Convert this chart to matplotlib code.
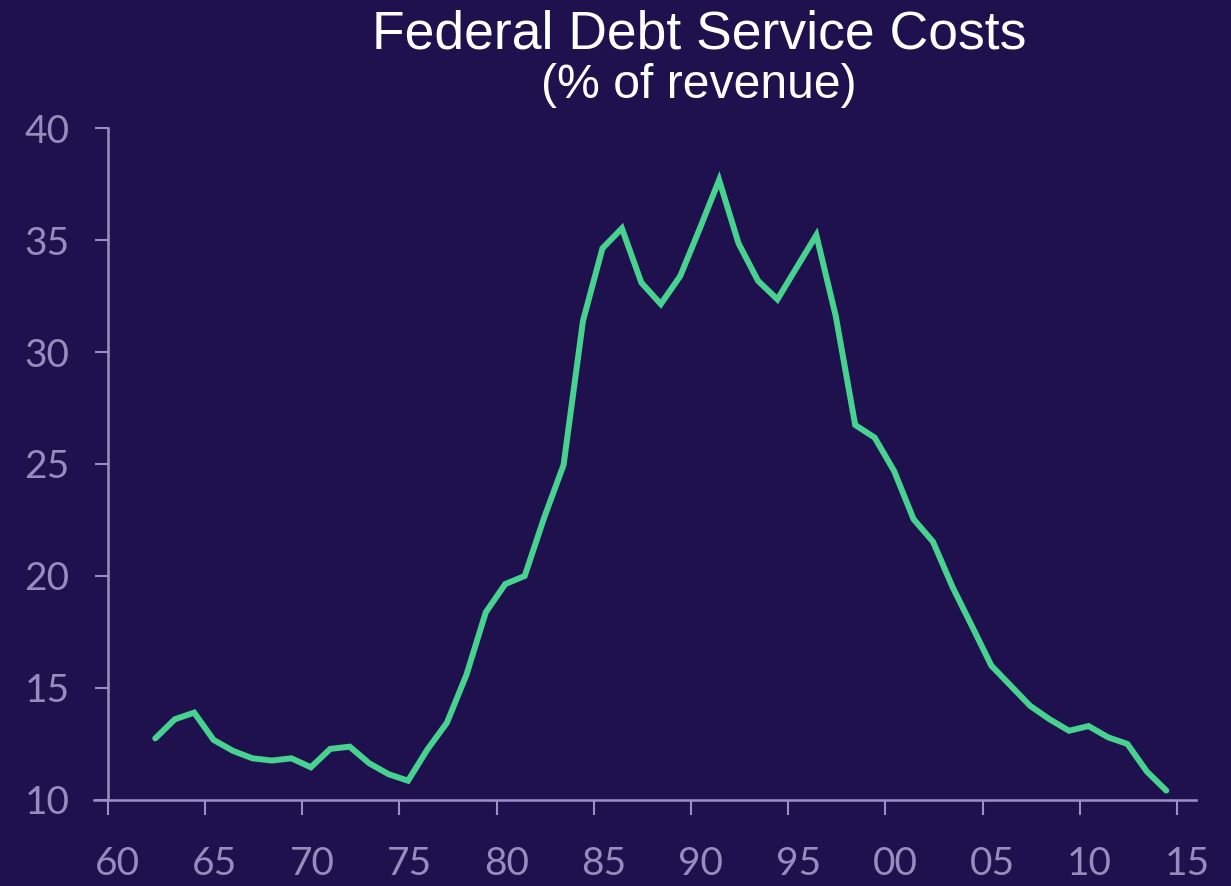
import numpy as np
import matplotlib
matplotlib.use("Agg")
import matplotlib.pyplot as plt
import matplotlib.transforms as mtransforms

# Federal debt service costs, % of revenue
years = np.arange(1962, 2015)
debt_service = [
    12.75, 13.6, 13.9, 12.68, 12.19, 11.86, 11.76, 11.86, 11.46, 12.28,
    12.38, 11.64, 11.15, 10.86, 12.26, 13.45, 15.58, 18.38, 19.64, 20.0,
    22.6, 24.96, 31.4, 34.63, 35.52, 33.1, 32.14, 33.39, 35.5, 37.68,
    34.85, 33.18, 32.35, 33.79, 35.22, 31.6, 26.74, 26.18, 24.69, 22.54,
    21.53, 19.52, 17.77, 16.0, 15.1, 14.2, 13.6, 13.09, 13.3, 12.8,
    12.5, 11.27, 10.42,
]
x_ticks = np.arange(1960, 2016, 5)
x_labels = ["60", "65", "70", "75", "80", "85", "90", "95", "00", "05", "10", "15"]
y_ticks = [10, 15, 20, 25, 30, 35, 40]

bg = "#1f114d"
line_col = "#47d290"
axis_col = "#9a90c6"
label_col = "#968cbe"

fig = plt.figure(figsize=(12.31, 8.86), dpi=100, facecolor=bg)
ax = fig.add_axes([0.0764, 0.0971, 0.8952, 0.7584], facecolor=bg)

# each year sits inside its slot, a little right of the tick
ax.plot(years + 0.45, debt_service, color=line_col, lw=4.3,
        solid_joinstyle="miter", solid_capstyle="round")

ax.set_xlim(1959.30, 2015.98)
ax.set_ylim(10, 40)

for side in ["top", "right"]:
    ax.spines[side].set_visible(False)
ax.spines["left"].set_position(("data", 1960))
for side in ["left", "bottom"]:
    ax.spines[side].set_color(axis_col)
    ax.spines[side].set_linewidth(1.8)

ax.set_xticks(x_ticks)
ax.set_xticklabels(x_labels)
ax.set_yticks(y_ticks)

ax.tick_params(axis="both", colors=axis_col, labelcolor=label_col,
               width=1.5, labelsize=28)
ax.tick_params(axis="x", direction="out", length=10.8, pad=22)
ax.tick_params(axis="y", direction="out", length=9.4, pad=18)
for lab in ax.get_xticklabels() + ax.get_yticklabels():
    lab.set_family("Lato")

shift = mtransforms.ScaledTranslation(10 / 100, 0, fig.dpi_scale_trans)
for lab in ax.get_xticklabels():
    lab.set_transform(lab.get_transform() + shift)

fig.text(0.568, 0.9458, "Federal Debt Service Costs", color="white",
         fontsize=38.5, family="Liberation Sans", ha="center", va="baseline")
fig.text(0.568, 0.8894, "(% of revenue)", color="white",
         fontsize=34.7, family="Liberation Sans", ha="center", va="baseline")

fig.savefig("out.png", dpi=100, facecolor=bg)
